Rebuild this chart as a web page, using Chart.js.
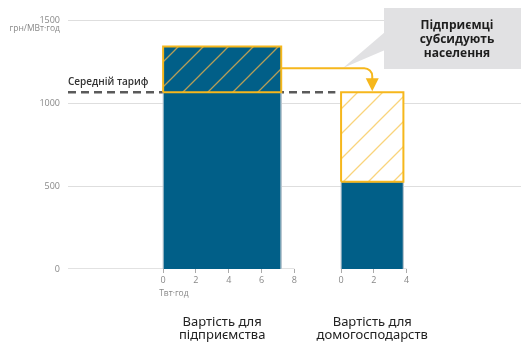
<!DOCTYPE html>
<html>
<head>
<meta charset="utf-8">
<script src="https://cdn.jsdelivr.net/npm/chart.js@4"></script>
<style>
  html, body { margin: 0; padding: 0; background: #fff; }
  #wrap { position: relative; width: 521px; height: 345px; }
</style>
</head>
<body>
<div id="wrap"><canvas id="chart" width="521" height="345"></canvas></div>
<script>
// data
const segments = [['Вартість для', 'підприємства'], ['Вартість для', 'домогосподарств']];
const capacity = [7.2, 3.8];          // ТВт·год
const costs = [1340, 525];            // грн/МВт·год
const avgTariff = 1065;               // середній тариф
const arrowLevel = 1210;
const leftTicks = [0, 2, 4, 6, 8];
const rightTicks = [0, 2, 4];
const yTicks = [0, 500, 1000, 1500];
const calloutLines = ['Підприємці', 'субсидують', 'населення'];

// layout of the two groups on one linear axis
const xMin = -5.8, xMax = 21.82;
const rightStart = 10.85;

const blue = '#015f88';
const gold = '#f6b71c';

function hatch(bg, line, step) {
    const c = document.createElement('canvas');
    c.width = c.height = step;
    const g = c.getContext('2d');
    if (bg) { g.fillStyle = bg; g.fillRect(0, 0, step, step); }
    g.strokeStyle = line;
    g.lineWidth = 1.3;
    g.beginPath();
    g.moveTo(0, step); g.lineTo(step, 0);
    g.moveTo(-step / 2, step / 2); g.lineTo(step / 2, -step / 2);
    g.moveTo(step / 2, step * 1.5); g.lineTo(step * 1.5, step / 2);
    g.stroke();
    return g.createPattern(c, 'repeat');
}

// open box (three sides) for the filled area, closed box for the outline
let box = (x0, x1, y0, y1) => [{ x: x0, y: y0 }, { x: x0, y: y1 }, { x: x1, y: y1 }, { x: x1, y: y0 }];
let outline = (x0, x1, y0, y1) => box(x0, x1, y0, y1).concat([{ x: x0, y: y0 }]);

const line = { pointRadius: 0, tension: 0 };
const r0 = rightStart, r1 = rightStart + capacity[1];

const datasets = [
    // outlines of the subsidy parts
    { ...line, data: outline(0, capacity[0], avgTariff, costs[0]), fill: false, borderColor: gold, borderWidth: 2, order: 0 },
    { ...line, data: outline(r0, r1, costs[1], avgTariff), fill: false, borderColor: gold, borderWidth: 2, order: 0 },
    // hatched subsidy parts
    { ...line, data: box(0, capacity[0], avgTariff, costs[0]), fill: { value: avgTariff },
      backgroundColor: hatch(blue, '#b59e58', 25), borderWidth: 0, order: 1 },
    { ...line, data: box(r0, r1, costs[1], avgTariff), fill: { value: costs[1] },
      backgroundColor: hatch('#ffffff', '#f9d47c', 25), borderWidth: 0, order: 1 },
    // costs
    { ...line, data: box(0, capacity[0], 0, costs[0]), fill: 'origin',
      backgroundColor: blue, borderColor: '#b9c7d0', borderWidth: 1, order: 3 },
    { ...line, data: box(r0, r1, 0, costs[1]), fill: 'origin',
      backgroundColor: blue, borderColor: '#b9c7d0', borderWidth: 1, order: 3 },
    // average tariff
    { ...line, data: [{ x: xMin, y: avgTariff }, { x: rightStart - 0.35, y: avgTariff }], fill: false,
      borderColor: '#5a5a5a', borderWidth: 2.5, borderDash: [8, 5], order: 8 },
    // x baselines
    { ...line, data: [{ x: xMin, y: 0 }, { x: leftTicks[leftTicks.length - 1], y: 0 }], fill: false,
      borderColor: '#c4c4c4', borderWidth: 1, order: 9 },
    { ...line, data: [{ x: r0, y: 0 }, { x: r0 + rightTicks[rightTicks.length - 1], y: 0 }], fill: false,
      borderColor: '#c4c4c4', borderWidth: 1, order: 9 }
];

const xTickValues = leftTicks.concat(rightTicks.map(v => v + rightStart));

const extras = {
    id: 'extras',
    afterDatasetsDraw(chart) {
        const ctx = chart.ctx;
        const x = chart.scales.x, y = chart.scales.y;
        const area = chart.chartArea;
        ctx.save();

        // callout
        ctx.fillStyle = '#e1e1e3';
        ctx.fillRect(384, 8, 137, 61);
        ctx.beginPath();
        ctx.moveTo(385, 32); ctx.lineTo(385, 50); ctx.lineTo(343, 68);
        ctx.closePath();
        ctx.fill();
        ctx.fillStyle = '#1e1e1e';
        ctx.font = 'bold 12px "Open Sans"';
        ctx.textAlign = 'center';
        ctx.textBaseline = 'middle';
        calloutLines.forEach((t, i) => ctx.fillText(t, 457, 26 + i * 14));

        // arrow
        const xa = x.getPixelForValue(capacity[0]);
        const xb = x.getPixelForValue(rightStart + capacity[1] / 2);
        const ya = y.getPixelForValue(arrowLevel);
        const yt = y.getPixelForValue(avgTariff);
        ctx.strokeStyle = gold;
        ctx.lineWidth = 2;
        ctx.beginPath();
        ctx.moveTo(xa, ya);
        ctx.arcTo(xb, ya, xb, ya + 9, 8);
        ctx.lineTo(xb, yt - 12);
        ctx.stroke();
        ctx.fillStyle = gold;
        ctx.beginPath();
        ctx.moveTo(xb - 6.5, yt - 14);
        ctx.lineTo(xb + 6.5, yt - 14);
        ctx.lineTo(xb, yt - 1);
        ctx.closePath();
        ctx.fill();

        // average tariff label
        ctx.fillStyle = '#333';
        ctx.font = '600 10px "Open Sans"';
        ctx.textAlign = 'left';
        ctx.fillText('Середній тариф', area.left, yt - 10);

        // axis units
        ctx.fillStyle = '#888';
        ctx.font = '8.5px "Open Sans"';
        ctx.textAlign = 'right';
        ctx.fillText('грн/МВт·год', area.left - 8, y.getPixelForValue(1500) + 9);
        ctx.textAlign = 'left';
        ctx.fillText('Твт·год', x.getPixelForValue(0) - 4, area.bottom + 25);

        // group labels
        ctx.fillStyle = '#222';
        ctx.font = '13px "Noto Sans"';
        ctx.textAlign = 'center';
        const centers = [capacity[0] / 2, rightStart + rightTicks[rightTicks.length - 1] / 2 - 0.1];
        segments.forEach((lines, i) => {
            const cx = x.getPixelForValue(centers[i]);
            lines.forEach((t, j) => ctx.fillText(t, cx, 322 + j * 13.5));
        });
        ctx.restore();
    }
};

new Chart(document.getElementById('chart'), {
    type: 'line',
    data: { datasets: datasets },
    options: {
        responsive: false,
        animation: false,
        layout: { padding: { top: 20, left: 0, right: 0, bottom: 0 } },
        scales: {
            x: {
                type: 'linear',
                min: xMin,
                max: xMax,
                afterFit: (scale) => { scale.height = 76; },
                afterBuildTicks: (scale) => { scale.ticks = xTickValues.map(v => ({ value: v })); },
                ticks: {
                    autoSkip: false,
                    maxRotation: 0,
                    padding: 2,
                    color: '#888',
                    font: { family: 'Open Sans', size: 9 },
                    callback: (v) => String(Math.round(v >= rightStart - 0.01 ? v - rightStart : v))
                },
                grid: { drawOnChartArea: false, drawTicks: true, tickLength: 4, color: '#aaa' },
                border: { display: false }
            },
            y: {
                min: 0,
                max: 1500,
                afterFit: (scale) => { scale.width = 68; },
                afterBuildTicks: (scale) => { scale.ticks = yTicks.map(v => ({ value: v })); },
                ticks: {
                    padding: 8,
                    color: '#888',
                    font: { family: 'Open Sans', size: 9 },
                    callback: (v) => String(v)
                },
                grid: {
                    drawTicks: false,
                    color: (c) => c.tick && c.tick.value === 0 ? 'rgba(0,0,0,0)' : '#dedede'
                },
                border: { display: false }
            }
        },
        plugins: {
            legend: { display: false },
            tooltip: { enabled: false }
        }
    },
    plugins: [extras]
});
</script>
</body>
</html>
